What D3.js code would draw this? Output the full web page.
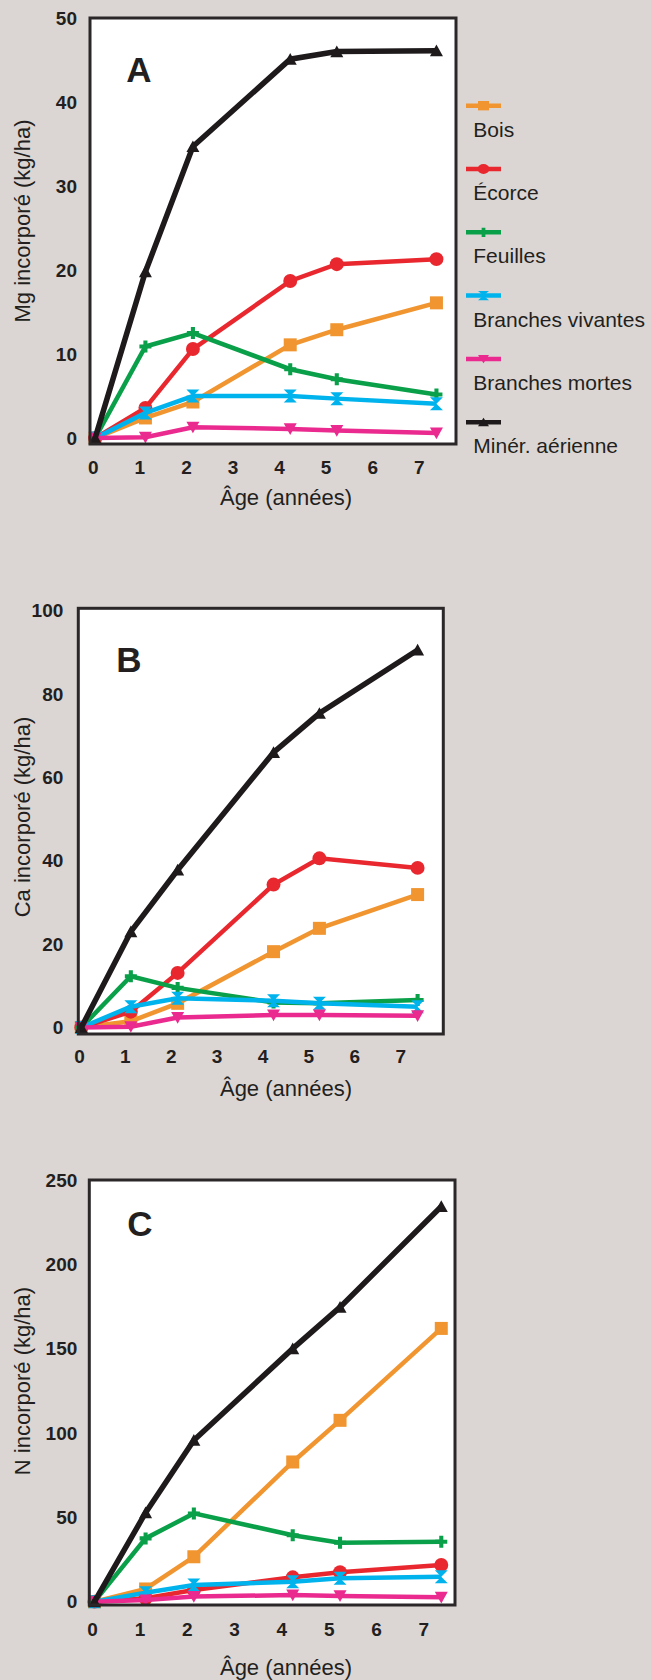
<!DOCTYPE html>
<html>
<head>
<meta charset="utf-8">
<script src="https://cdn.jsdelivr.net/npm/d3@7"></script>
<style>
  html, body { margin: 0; padding: 0; background: #dbd6d3; }
  svg { display: block; }
  text { font-family: "Liberation Sans", Arial, Helvetica, sans-serif; fill: #231f20; }
</style>
</head>
<body>
<script>
// ---------------- DATA ----------------
const seriesNames = ["Bois", "Écorce", "Feuilles", "Branches vivantes", "Branches mortes", "Minér. aérienne"];
const ages = [0.05, 1.13, 2.15, 4.24, 5.24, 7.38];
const xTicks = [0, 1, 2, 3, 4, 5, 6, 7];

// A : Mg
const mgBois      = [0, 2.4, 4.3, 11.1, 12.9, 16.1];
const mgEcorce    = [0, 3.6, 10.6, 18.7, 20.7, 21.3];
const mgFeuilles  = [0, 10.9, 12.5, 8.2, 7.0, 5.2];
const mgBrVivantes= [0, 3.0, 5.0, 5.0, 4.7, 4.1];
const mgBrMortes  = [0, 0.1, 1.3, 1.1, 0.9, 0.6];
const mgMiner     = [0, 19.8, 34.7, 45.1, 46.0, 46.1];
const mgTicks = [0, 10, 20, 30, 40, 50];

// B : Ca
const caBois      = [0, 1.5, 5.8, 18.2, 23.8, 31.9];
const caEcorce    = [0, 3.8, 13.1, 34.3, 40.6, 38.3];
const caFeuilles  = [0, 12.3, 9.5, 6.0, 5.8, 6.6];
const caBrVivantes= [0, 5.0, 7.0, 6.4, 5.8, 5.0];
const caBrMortes  = [0, 0.2, 2.4, 3.0, 3.0, 2.8];
const caMiner     = [0, 23.0, 37.8, 66.0, 75.4, 90.6];
const caTicks = [0, 20, 40, 60, 80, 100];

// C : N
const nBois       = [0, 7.5, 26.6, 82.8, 107.5, 162.0];
const nEcorce     = [0, 2.0, 6.9, 14.4, 17.4, 21.7];
const nFeuilles   = [0, 37.5, 52.3, 39.4, 34.9, 35.5];
const nBrVivantes = [0, 5.3, 9.9, 11.8, 13.8, 14.8];
const nBrMortes   = [0, 1.0, 3.0, 3.9, 3.4, 2.6];
const nMiner      = [0, 52.7, 95.7, 150.0, 174.6, 234.3];
const nTicks = [0, 50, 100, 150, 200, 250];

// ---------------- STYLE / LAYOUT ----------------
const colors = ["#f0952f", "#e8282e", "#0aa04a", "#00b3ec", "#ea2a8e", "#1e1a1b"];
const widths = [4.5, 4.5, 4.5, 4.5, 4.5, 5.5];
const markerKinds = ["square", "circle", "cross", "hourglass", "down", "up"];

const panels = [
  { letter: "A", title: "Mg incorporé (kg/ha)", data: [mgBois, mgEcorce, mgFeuilles, mgBrVivantes, mgBrMortes, mgMiner],
    yTicks: mgTicks, xDom: [-0.06, 7.8], xRange: [90, 456], yDom: [-0.7, 50], yRange: [444, 18],
    letterPos: [139, 69], yTitlePos: [30, 221], xTitleY: 505, xPad: 17, yPad: 13 },
  { letter: "B", title: "Ca incorporé (kg/ha)", data: [caBois, caEcorce, caFeuilles, caBrVivantes, caBrMortes, caMiner],
    yTicks: caTicks, xDom: [-0.015, 7.94], xRange: [78.3, 443.3], yDom: [-1.56, 100.6], yRange: [1034, 608.3],
    letterPos: [129, 659], yTitlePos: [30, 817], xTitleY: 1096, xPad: 16, yPad: 15 },
  { letter: "C", title: "N incorporé (kg/ha)", data: [nBois, nEcorce, nFeuilles, nBrVivantes, nBrMortes, nMiner],
    yTicks: nTicks, xDom: [-0.06, 7.67], xRange: [89.3, 455], yDom: [-2, 250], yRange: [1605, 1180],
    letterPos: [140, 1223], yTitlePos: [30, 1381], xTitleY: 1675, xPad: 18, yPad: 12 }
];

function markerPath(kind, s) {
  const h = s / 2;
  switch (kind) {
    case "square": return `M${-h},${-h}H${h}V${h}H${-h}Z`;
    case "circle": return d3.symbol(d3.symbolCircle, Math.PI * h * h * 1.15)();
    case "cross": { const t = s * 0.17; return `M${-t},${-h}H${t}V${-t}H${h}V${t}H${t}V${h}H${-t}V${t}H${-h}V${-t}H${-t}Z`; }
    case "hourglass": return `M${-h},${-h}H${h}L0,0L${h},${h}H${-h}L0,0Z`;
    case "down": return `M${-h},${-h * 0.85}H${h}L0,${h * 0.95}Z`;
    case "up": return `M${-h},${h * 0.85}H${h}L0,${-h * 0.95}Z`;
  }
}

const svg = d3.select("body").append("svg").attr("width", 651).attr("height", 1680);
svg.append("rect").attr("width", 651).attr("height", 1680).attr("fill", "#dbd6d3");

panels.forEach(p => {
  const x = d3.scaleLinear().domain(p.xDom).range(p.xRange);
  const y = d3.scaleLinear().domain(p.yDom).range(p.yRange);
  const g = svg.append("g");

  g.append("rect")
    .attr("x", p.xRange[0]).attr("y", p.yRange[1])
    .attr("width", p.xRange[1] - p.xRange[0]).attr("height", p.yRange[0] - p.yRange[1])
    .attr("fill", "#ffffff");

  // axes
  const ax = g.append("g").attr("transform", `translate(0,${p.yRange[0]})`)
    .call(d3.axisBottom(x).tickValues(xTicks).tickFormat(d3.format("d")).tickSize(0).tickPadding(p.xPad));
  const ay = g.append("g").attr("transform", `translate(${p.xRange[0]},0)`)
    .call(d3.axisLeft(y).tickValues(p.yTicks).tickFormat(d3.format("d")).tickSize(0).tickPadding(p.yPad));
  [ax, ay].forEach(a => {
    a.select(".domain").remove();
    a.selectAll("text").attr("font-family", "'Liberation Sans', Arial, sans-serif")
      .attr("font-size", 19).attr("font-weight", "bold").attr("fill", "#231f20");
  });

  // series
  const line = d3.line().x((d, i) => x(ages[i])).y(d => y(d));
  p.data.forEach((vals, si) => {
    g.append("path").datum(vals).attr("d", line)
      .attr("fill", "none").attr("stroke", colors[si]).attr("stroke-width", widths[si])
      .attr("stroke-linejoin", "miter");
    g.selectAll(null).data(vals).enter().append("path")
      .attr("d", markerPath(markerKinds[si], markerKinds[si] === "cross" ? 12 : 13))
      .attr("transform", (d, i) => `translate(${x(ages[i])},${y(d)})`)
      .attr("fill", colors[si]);
  });

  // frame
  g.append("rect")
    .attr("x", p.xRange[0]).attr("y", p.yRange[1])
    .attr("width", p.xRange[1] - p.xRange[0]).attr("height", p.yRange[0] - p.yRange[1])
    .attr("fill", "none").attr("stroke", "#2b2728").attr("stroke-width", 3);

  // panel letter
  g.append("text").attr("x", p.letterPos[0]).attr("y", p.letterPos[1])
    .attr("text-anchor", "middle").attr("dominant-baseline", "central")
    .attr("font-size", 35).attr("font-weight", "bold").text(p.letter);

  // titles
  g.append("text").attr("transform", `translate(${p.yTitlePos[0]},${p.yTitlePos[1]}) rotate(-90)`)
    .attr("text-anchor", "middle").attr("font-size", 22).text(p.title);
  g.append("text").attr("x", 286).attr("y", p.xTitleY)
    .attr("text-anchor", "middle").attr("font-size", 22).text("Âge (années)");
});

// legend
const legend = svg.append("g");
seriesNames.forEach((name, i) => {
  const ly = 105.7 + i * 63.3;
  legend.append("line").attr("x1", 466).attr("x2", 501).attr("y1", ly).attr("y2", ly)
    .attr("stroke", colors[i]).attr("stroke-width", 4.5);
  legend.append("path").attr("d", markerPath(markerKinds[i], 11))
    .attr("transform", `translate(483.5,${ly}) scale(1,0.85)`).attr("fill", colors[i]);
  legend.append("text").attr("x", 473.3).attr("y", ly + 31).attr("font-size", 21).text(name);
});
</script>
</body>
</html>
